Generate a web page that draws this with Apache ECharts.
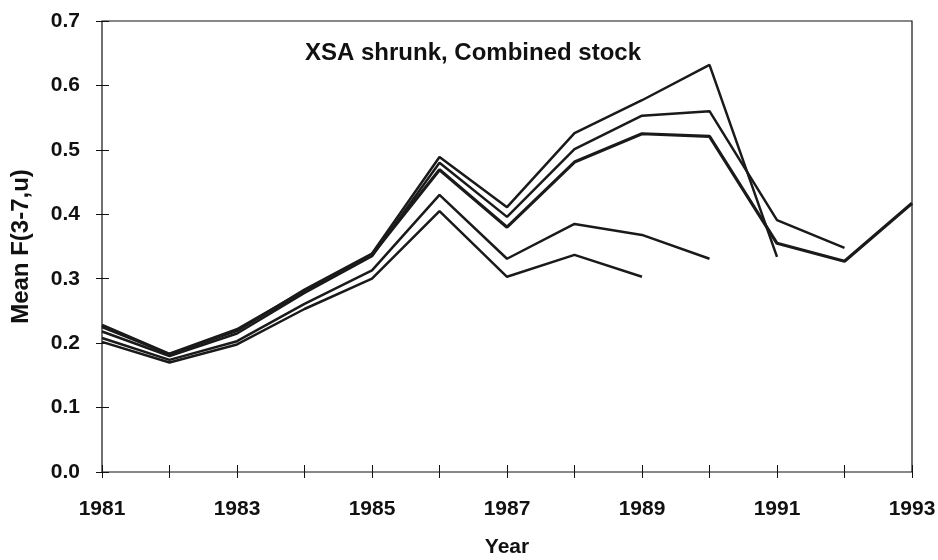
<!DOCTYPE html>
<html>
<head>
<meta charset="utf-8">
<script src="https://cdn.jsdelivr.net/npm/echarts@6/dist/echarts.min.js"></script>
<style>html,body{margin:0;padding:0;background:#fff}#c{width:938px;height:560px}</style>
</head>
<body>
<div id="c"></div>
<script>
const years = [1981,1982,1983,1984,1985,1986,1987,1988,1989,1990,1991,1992,1993];
const run1989 = [0.202,0.170,0.198,0.253,0.300,0.405,0.303,0.337,0.303];
const run1990 = [0.208,0.174,0.203,0.261,0.313,0.430,0.331,0.385,0.368,0.331];
const run1991 = [0.225,0.183,0.219,0.283,0.339,0.489,0.411,0.526,0.577,0.632,0.334];
const run1992 = [0.218,0.180,0.215,0.278,0.335,0.480,0.396,0.501,0.553,0.560,0.391,0.348];
const run1993 = [0.228,0.183,0.221,0.281,0.337,0.469,0.380,0.481,0.525,0.521,0.355,0.327,0.417];
const yTicks = [0.0,0.1,0.2,0.3,0.4,0.5,0.6,0.7];
const titleText = 'XSA shrunk, Combined stock';

const runs = [run1989, run1990, run1991, run1992, run1993];
const widths = [2.5, 2.5, 2.5, 2.5, 3.2];
const font = 'Liberation Sans, Arial, sans-serif';
const chart = echarts.init(document.getElementById('c'));
chart.setOption({
  animation: false,
  backgroundColor: '#fff',
  title: {
    text: titleText, left: 468, top: 36, textAlign: 'center',
    textStyle: {fontFamily: font, fontWeight: 'bold', fontSize: 24, color: '#111'}
  },
  grid: {left: 102, right: 26, top: 21, bottom: 88, containLabel: false, outerBoundsMode: 'none',
    show: true, borderColor: '#111', borderWidth: 1.2, backgroundColor: 'transparent'},
  xAxis: {
    type: 'value', min: 1981, max: 1993, interval: 1, offset: -7,
    name: 'Year', nameLocation: 'middle', nameGap: 72,
    nameTextStyle: {fontFamily: font, fontWeight: 'bold', fontSize: 21, color: '#111'},
    axisLine: {show: true, lineStyle: {color: 'rgba(0,0,0,0)', width: 0}},
    axisTick: {show: true, length: 13, lineStyle: {color: '#111'}},
    axisLabel: {margin: 34, fontFamily: font, fontWeight: 'bold', fontSize: 21, color: '#111',
      formatter: v => ((v - 1981) % 2 === 0 ? String(v) : '')},
    splitLine: {show: false}
  },
  yAxis: {
    type: 'value', min: 0, max: 0.7, interval: 0.1, offset: -7,
    name: 'Mean F(3-7,u)', nameLocation: 'middle', nameGap: 76,
    nameTextStyle: {fontFamily: font, fontWeight: 'bold', fontSize: 24, color: '#111'},
    axisLine: {show: true, lineStyle: {color: 'rgba(0,0,0,0)', width: 0}},
    axisTick: {show: true, length: 13, lineStyle: {color: '#111'}},
    axisLabel: {margin: 29, fontFamily: font, fontWeight: 'bold', fontSize: 21, color: '#111',
      formatter: v => v.toFixed(1)},
    splitLine: {show: false}
  },
  series: runs.map((r, i) => ({
    type: 'line', symbol: 'none',
    data: r.map((v, j) => [years[j], v]),
    lineStyle: {color: '#1a1a1a', width: widths[i]}
  }))
});
</script>
</body>
</html>
